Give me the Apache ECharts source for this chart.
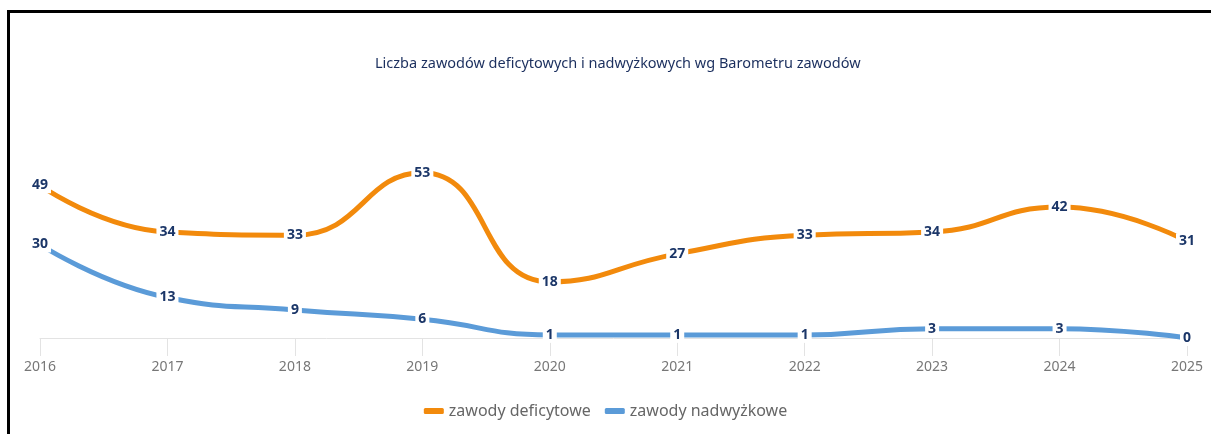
<!DOCTYPE html>
<html>
<head>
<meta charset="utf-8">
<script src="https://cdn.jsdelivr.net/npm/echarts@6/dist/echarts.min.js"></script>
<style>
html,body{margin:0;padding:0;background:#fff;}
#frame{position:absolute;left:7px;top:10px;width:1204px;height:424px;border-left:3px solid #000;border-top:3px solid #000;box-sizing:border-box;}
#chart{position:absolute;left:0;top:0;width:1211px;height:434px;}
</style>
</head>
<body>
<div id="frame"></div>
<div id="chart"></div>
<script>
const categories = ['2016','2017','2018','2019','2020','2021','2022','2023','2024','2025'];
const deficytowe = [49,34,33,53,18,27,33,34,42,31];
const nadwyzkowe = [30,13,9,6,1,1,1,3,3,0];
const titleText = 'Liczba zawodów deficytowych i nadwyżkowych wg Barometru zawodów';
const seriesNames = ['zawody deficytowe','zawody nadwyżkowe'];

const chart = echarts.init(document.getElementById('chart'), null, {renderer:'canvas'});
const labelStyle = {
  show: true,
  position: 'inside',
  color: '#1b3668',
  fontWeight: 'bold',
  fontSize: 14,
  fontFamily: 'Noto Sans',
  backgroundColor: '#fff',
  padding: [1, 3]
};
chart.setOption({
  animation: false,
  title: {
    text: titleText,
    left: 370,
    top: 51,
    textStyle: {color:'#1b2f5e', fontSize:14.5, fontWeight:'normal', fontFamily:'Noto Sans'}
  },
  legend: {
    bottom: 10,
    left: 'center',
    icon: 'roundRect',
    itemWidth: 20,
    itemHeight: 6,
    itemGap: 14,
    textStyle: {color:'#666', fontSize:16, fontFamily:'Noto Sans'},
    data: seriesNames
  },
  grid: {left: 40, right: 24, top: 151, bottom: 96},
  xAxis: {
    type: 'category',
    data: categories,
    boundaryGap: false,
    axisLine: {lineStyle: {color:'#e3e3e3'}},
    axisTick: {show: true, length: 18, lineStyle: {color:'#e3e3e3'}, alignWithLabel: true},
    axisLabel: {color:'#777', fontSize:14, fontFamily:'Noto Sans', margin: 22}
  },
  yAxis: {
    type: 'value',
    min: 0,
    max: 60,
    show: false,
    splitLine: {show: false}
  },
  series: [
    {
      name: seriesNames[0],
      type: 'line',
      data: deficytowe,
      smooth: 0.5,
      symbol: 'circle',
      symbolSize: 1,
      showSymbol: true,
      color: '#f28a0c',
      itemStyle: {color: '#f28a0c'},
      lineStyle: {width: 5, color: '#f28a0c'},
      label: labelStyle
    },
    {
      name: seriesNames[1],
      type: 'line',
      data: nadwyzkowe,
      smooth: 0.5,
      symbol: 'circle',
      symbolSize: 1,
      showSymbol: true,
      color: '#5b9bd8',
      itemStyle: {color: '#5b9bd8'},
      lineStyle: {width: 5, color: '#5b9bd8'},
      label: labelStyle
    }
  ]
});
</script>
</body>
</html>
